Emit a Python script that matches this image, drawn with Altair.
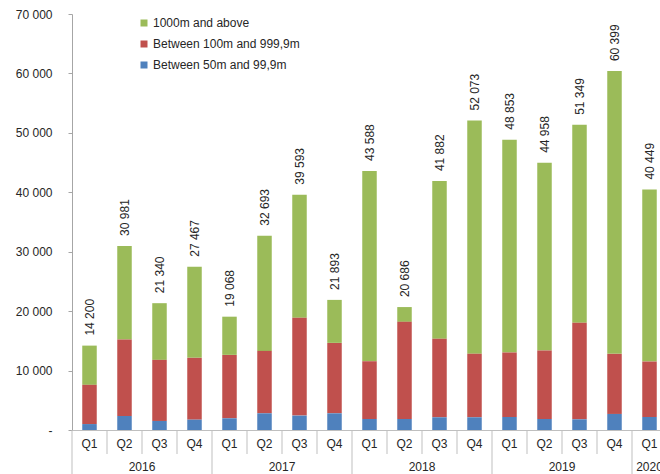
import altair as alt
import pandas as pd

quarters = ["Q1", "Q2", "Q3", "Q4", "Q1", "Q2", "Q3", "Q4", "Q1", "Q2", "Q3", "Q4",
            "Q1", "Q2", "Q3", "Q4", "Q1"]
years = ["2016"] * 4 + ["2017"] * 4 + ["2018"] * 4 + ["2019"] * 4 + ["2020"]
totals = [14200, 30981, 21340, 27467, 19068, 32693, 39593, 21893, 43588, 20686,
          41882, 52073, 48853, 44958, 51349, 60399, 40449]
blue = [1000, 2360, 1520, 1740, 1970, 2810, 2420, 2810, 1850, 1850, 2140, 2140,
        2190, 1850, 1800, 2700, 2190]
red = [6600, 12860, 10280, 10400, 10670, 10500, 16460, 11850, 9720, 16350, 13200,
       10670, 10840, 11520, 16240, 10110, 9330]
green = [6600, 15761, 9540, 15327, 6428, 19383, 20713, 7233, 32018, 2486, 26542,
         39263, 35823, 31588, 33309, 47589, 28929]

series_names = ["1000m and above", "Between 100m and 999,9m", "Between 50m and 99,9m"]
series_colors = ["#9BBB59", "#C0504D", "#4F81BD"]
series_values = [green, red, blue]
stack_rank = [2, 1, 0]

periods = [f"{y} {q}" for y, q in zip(years, quarters)]

rows = []
for name, vals, rank in zip(series_names, series_values, stack_rank):
    for p, y, q, v in zip(periods, years, quarters, vals):
        rows.append({"period": p, "year": y, "quarter": q, "series": name,
                     "value": v, "rank": rank})
df = pd.DataFrame(rows)

tot_df = pd.DataFrame({"period": periods, "year": years, "quarter": quarters,
                       "total": totals})

# year label anchors: center of each year's group
year_names = ["2016", "2017", "2018", "2019", "2020"]
year_anchor_mid = pd.DataFrame({"period": ["2016 Q3", "2017 Q3", "2018 Q3", "2019 Q3"],
                                "label": year_names[:4]})
year_anchor_single = pd.DataFrame({"period": ["2020 Q1"], "label": ["2020"]})

W = 588
H = 416
FULL = 595
FONT = "Liberation Sans"
TXT = "#262626"
GRID = "#BFBFBF"

xscale = alt.Scale(domain=periods, range=[0, FULL], paddingInner=0, paddingOuter=0)

bars = alt.Chart(df).mark_bar(size=14.5).encode(
    x=alt.X("period:O", scale=xscale, sort=periods,
            axis=alt.Axis(title=None, labelAngle=0, ticks=False, tickSize=0,
                          labelPadding=8, labelFontSize=12, labelFont=FONT,
                          labelColor=TXT, domainColor=GRID,
                          labelExpr="split(datum.value, ' ')[1]")),
    y=alt.Y("value:Q", stack="zero",
            scale=alt.Scale(domain=[0, 70000], nice=False),
            axis=alt.Axis(title=None, values=list(range(0, 70001, 10000)),
                          grid=False, tickSize=4, tickColor="#A6A6A6",
                          domainColor="#A6A6A6", labelPadding=16,
                          labelFontSize=12, labelFont=FONT, labelColor=TXT,
                          labelExpr="datum.value == 0 ? '-' : replace(format(datum.value, ','), ',', ' ')")),
    color=alt.Color("series:N",
                    scale=alt.Scale(domain=series_names, range=series_colors),
                    legend=alt.Legend(title=None, orient="none", legendX=66, legendY=3,
                                      symbolType="square", symbolSize=49,
                                      symbolStrokeWidth=0, labelFontSize=12,
                                      labelFont=FONT, labelColor=TXT,
                                      labelOffset=3, rowPadding=9, padding=0)),
    order=alt.Order("rank:Q", sort="ascending"),
)

labels = alt.Chart(tot_df).mark_text(
    angle=270, align="left", baseline="middle", dx=10, fontSize=12,
    font=FONT, color=TXT
).encode(
    x=alt.X("period:O", scale=xscale, sort=periods),
    y=alt.Y("total:Q"),
    text=alt.Text("label:N"),
).transform_calculate(
    label="replace(format(datum.total, ','), ',', ' ')"
)

short_sep = alt.Chart(tot_df).transform_filter("datum.quarter != 'Q1'").mark_rule(
    color=GRID, strokeWidth=1
).encode(
    x=alt.X("period:O", scale=xscale, sort=periods, bandPosition=0),
    y=alt.value(H),
    y2=alt.value(H + 24),
)

long_sep = alt.Chart(tot_df).transform_filter("datum.quarter == 'Q1'").mark_rule(
    color=GRID, strokeWidth=1
).encode(
    x=alt.X("period:O", scale=xscale, sort=periods, bandPosition=0),
    y=alt.value(H),
    y2=alt.value(H + 60),
)

year_mid = alt.Chart(year_anchor_mid).mark_text(
    fontSize=12, font=FONT, color=TXT, baseline="middle"
).encode(
    x=alt.X("period:O", scale=xscale, sort=periods, bandPosition=0),
    y=alt.value(H + 37),
    text="label:N",
)

year_single = alt.Chart(year_anchor_single).mark_text(
    fontSize=12, font=FONT, color=TXT, baseline="middle"
).encode(
    x=alt.X("period:O", scale=xscale, sort=periods, bandPosition=0.5),
    y=alt.value(H + 37),
    text="label:N",
)

chart = alt.layer(bars, labels, short_sep, long_sep, year_mid, year_single).properties(
    width=W, height=H,
    autosize=alt.AutoSizeParams(type="none"),
    padding={"left": 72, "top": 14, "right": 0, "bottom": 44},
    background="white",
).configure_view(stroke=None)

chart.save("out.html", embed_options={"renderer": "svg", "actions": False})
